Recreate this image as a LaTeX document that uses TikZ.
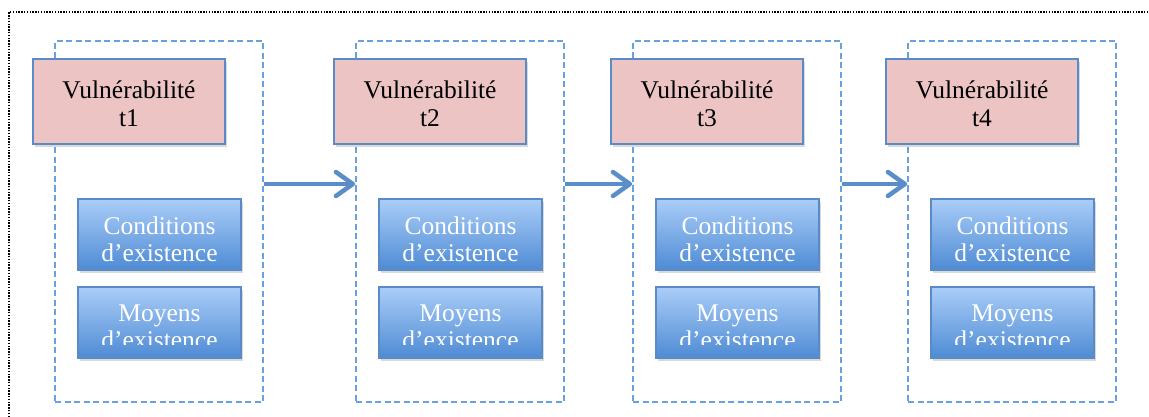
\documentclass[tikz,border=0pt]{standalone}
\usepackage{fontspec}
\setmainfont{Liberation Serif}
\usetikzlibrary{arrows.meta,shadows,calc}
\definecolor{dashblue}{HTML}{6AA0DD}
\definecolor{edgeblue}{HTML}{5B8BC6}
\definecolor{rosefill}{HTML}{EBC4C3}
\definecolor{bluetop}{HTML}{AACDF8}
\definecolor{bluebot}{HTML}{4E8BD4}
\definecolor{arrowblue}{HTML}{5B8DC9}
\tikzset{
  frame/.style={draw=dashblue, line width=1.7pt, dash pattern=on 6pt off 3.5pt,
    minimum width=208pt, minimum height=361pt, inner sep=0pt},
  vulbox/.style={draw=edgeblue, line width=1.8pt, fill=rosefill,
    minimum width=192pt, minimum height=85pt, inner sep=0pt,
    drop shadow={opacity=0.3, shadow xshift=1.5pt, shadow yshift=-3pt}},
  resbox/.style={draw=edgeblue, line width=1.2pt, top color=bluetop, bottom color=bluebot,
    minimum width=163pt, minimum height=71pt, inner sep=0pt,
    drop shadow={opacity=0.3, shadow xshift=1.5pt, shadow yshift=-3pt}},
  vultext/.style={font=\fontsize{25.5}{28}\selectfont, align=center, inner sep=0pt, text=black},
  restext/.style={font=\fontsize{25.5}{27}\selectfont, align=center, inner sep=0pt, text=white},
  flow/.style={draw=arrowblue, line width=4.5pt,
    -{Straight Barb[length=17pt, width=24pt, line cap=round, line join=round]}},
  outline/.style={draw=black, line width=1.5pt, dash pattern=on 1.4pt off 1.4pt}
}
\begin{document}
\begin{tikzpicture}[x=1pt, y=-1pt]
\useasboundingbox (0,0) rectangle (1149,417);
% dotted outer border (only top and left sides lie inside the page)
\draw[outline] (9,417) -- (9,12) -- (1152,12);

\foreach \x/\i in {55/1,356/2,633/3,908/4} {
  % dashed container for one time step
  \node[frame] (c\i) at (\x+104,221.5) {};
  % vulnerability header
  \node[vulbox] (v\i) at (\x+74,101.5) {};
  \node[vultext, anchor=north] (vt\i) at ($(v\i.north)+(0,22.5)$) {Vulnérabilité\\t\i};
  % conditions of existence
  \node[resbox] (k\i) at (\x+104.5,234.5) {};
  \node[restext, anchor=north] (kt\i) at ($(k\i.north)+(0,18.5)$) {Conditions\\d’existence};
  % means of existence (text cut just above the baseline of its lower line)
  \node[resbox] (m\i) at (\x+104.5,322.5) {};
  \begin{scope}
    \clip ($(m\i.north west)+(0,1)$) rectangle ($(m\i.east)+(0,21.5)$);
    \node[restext, anchor=north] (mt\i) at ($(m\i.north)+(0,18.5)$) {Moyens\\d’existence};
  \end{scope}
}

% transitions between time steps
\draw[flow] ([yshift=37.5pt]c1.east) -- ([yshift=37.5pt]c2.west);
\draw[flow] ([yshift=37.5pt]c2.east) -- ([yshift=37.5pt]c3.west);
\draw[flow] ([yshift=37.5pt]c3.east) -- ([yshift=37.5pt]c4.west);
\end{tikzpicture}
\end{document}
